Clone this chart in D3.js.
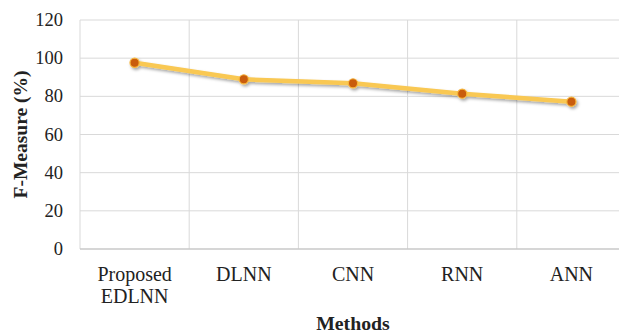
<!DOCTYPE html>
<html>
<head>
<meta charset="utf-8">
<script src="https://cdn.jsdelivr.net/npm/d3@7"></script>
<style>
  html, body { margin: 0; padding: 0; background: #fff; }
  svg { display: block; }
  text { font-family: "Liberation Serif", "Times New Roman", serif; fill: #222; }
</style>
</head>
<body>
<script>
// F-Measure by method
const methods = ["Proposed\nEDLNN", "DLNN", "CNN", "RNN", "ANN"];
const fMeasure = [97.6, 88.9, 86.8, 81.4, 77.2];
const yTicks = [0, 20, 40, 60, 80, 100, 120];

const width = 619, height = 333;
const plot = { left: 80, right: 626, top: 20, bottom: 249 };

const svg = d3.select("body").append("svg")
  .attr("width", width).attr("height", height);

const defs = svg.append("defs");
const shadow = defs.append("filter").attr("id", "shadow")
  .attr("x", "-20%").attr("y", "-50%").attr("width", "140%").attr("height", "200%");
shadow.append("feDropShadow")
  .attr("dx", 1.5).attr("dy", 2).attr("stdDeviation", 1.6)
  .attr("flood-color", "#000").attr("flood-opacity", 0.35);

const x = d3.scaleBand().domain(methods).range([plot.left, plot.right]);
const y = d3.scaleLinear().domain([0, 120]).range([plot.bottom, plot.top]);

// horizontal gridlines
svg.append("g").selectAll("line").data(yTicks.filter(d => d > 0)).join("line")
  .attr("x1", plot.left).attr("x2", plot.right)
  .attr("y1", d => y(d)).attr("y2", d => y(d))
  .attr("stroke", "#d9d9d9").attr("stroke-width", 1);

// vertical category separators
const seps = methods.map(m => x(m));
svg.append("g").selectAll("line").data(seps).join("line")
  .attr("x1", d => d).attr("x2", d => d)
  .attr("y1", plot.top).attr("y2", plot.bottom)
  .attr("stroke", "#d9d9d9").attr("stroke-width", 1);

// baseline
svg.append("line")
  .attr("x1", plot.left).attr("x2", plot.right)
  .attr("y1", y(0)).attr("y2", y(0))
  .attr("stroke", "#c8c8c8").attr("stroke-width", 1.5);

// y tick labels
svg.append("g").selectAll("text").data(yTicks).join("text")
  .attr("x", 63).attr("y", d => y(d) + 6)
  .attr("text-anchor", "end")
  .style("font-size", "18.5px")
  .text(d => d);

// x category labels
const xl = svg.append("g").selectAll("text").data(methods).join("text")
  .attr("text-anchor", "middle")
  .style("font-size", "20px")
  .attr("transform", d => `translate(${x(d) + x.bandwidth() / 2},${280.5})`);
xl.selectAll("tspan").data(d => d.split("\n")).join("tspan")
  .attr("x", 0).attr("dy", (d, i) => i === 0 ? 0 : 22.5)
  .text(d => d);

// axis titles
svg.append("text")
  .attr("x", (plot.left + plot.right) / 2).attr("y", 330)
  .attr("text-anchor", "middle")
  .style("font-size", "19.8px").style("font-weight", "bold")
  .text("Methods");

svg.append("text")
  .attr("transform", `translate(27,${(plot.top + plot.bottom) / 2}) rotate(-90)`)
  .attr("text-anchor", "middle")
  .style("font-size", "19.5px").style("font-weight", "bold")
  .text("F-Measure (%)");

// series line and markers
const cx = d => x(d) + x.bandwidth() / 2;
const series = methods.map((m, i) => ({ m, v: fMeasure[i] }));
const g = svg.append("g").attr("filter", "url(#shadow)");
g.append("path")
  .datum(series)
  .attr("fill", "none")
  .attr("stroke", "#f9c852")
  .attr("stroke-width", 4.5)
  .attr("stroke-linejoin", "round")
  .attr("d", d3.line().x(d => cx(d.m)).y(d => y(d.v)));
g.selectAll("circle").data(series).join("circle")
  .attr("cx", d => cx(d.m)).attr("cy", d => y(d.v))
  .attr("r", 4.6)
  .attr("fill", "#c95b0c")
  .attr("stroke", "#f6b53c").attr("stroke-width", 1.2);
</script>
</body>
</html>
